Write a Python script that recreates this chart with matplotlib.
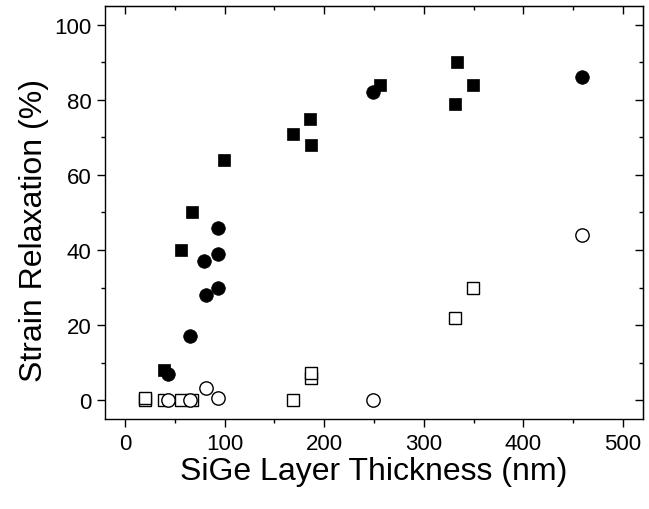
import matplotlib
matplotlib.use("Agg")
import matplotlib.pyplot as plt
from matplotlib.ticker import MultipleLocator

plt.rcParams["font.family"] = ["Liberation Sans", "DejaVu Sans"]

# filled squares
sq_full_x = [39, 56, 67, 99, 169, 187, 186, 256, 331, 333, 349]
sq_full_y = [8, 40, 50, 64, 71, 68, 75, 84, 79, 90, 84]
# filled circles
ci_full_x = [43, 65, 79, 81, 93, 93, 93, 249, 459]
ci_full_y = [7, 17, 37, 28, 46, 39, 30, 82, 86]
# open squares
sq_open_x = [20, 20, 39, 56, 67, 169, 187, 187, 331, 349]
sq_open_y = [0, 0.6, 0, 0, 0, 0, 6, 7.2, 22, 30]
# open circles
ci_open_x = [43, 65, 81, 93, 249, 459]
ci_open_y = [0, 0, 3.2, 0.6, 0, 44]

fig = plt.figure(figsize=(6.49, 5.10), dpi=100)
ax = fig.add_axes([0.1618, 0.1765, 0.829, 0.8098])

ax.plot(sq_open_x, sq_open_y, ls="none", marker="s", ms=8.8, mfc="white",
        mec="black", mew=1.0, zorder=3)
ax.plot(ci_open_x, ci_open_y, ls="none", marker="o", ms=9.6, mfc="white",
        mec="black", mew=1.0, zorder=3)
ax.plot(sq_full_x, sq_full_y, ls="none", marker="s", ms=8.6, mfc="black",
        mec="black", mew=0.5, zorder=4)
ax.plot(ci_full_x, ci_full_y, ls="none", marker="o", ms=9.8, mfc="black",
        mec="black", mew=0.5, zorder=4)

ax.set_xlim(-20, 520)
ax.set_ylim(-5, 105)
ax.xaxis.set_major_locator(MultipleLocator(100))
ax.xaxis.set_minor_locator(MultipleLocator(50))
ax.yaxis.set_major_locator(MultipleLocator(20))
ax.yaxis.set_minor_locator(MultipleLocator(10))

ax.tick_params(which="both", direction="out", width=1.0, labelsize=16,
               top=False, right=False)
ax.tick_params(which="major", length=5.8, pad=4)
ax.tick_params(which="minor", length=3)
for s in ax.spines.values():
    s.set_linewidth(1.0)

# mirrored inward ticks on top/right
axt = ax.secondary_xaxis("top")
axt.xaxis.set_major_locator(MultipleLocator(100))
axt.xaxis.set_minor_locator(MultipleLocator(50))
axt.tick_params(which="both", direction="in", labeltop=False, width=1.0)
axt.tick_params(which="major", length=5.8)
axt.tick_params(which="minor", length=3)
axr = ax.secondary_yaxis("right")
axr.yaxis.set_major_locator(MultipleLocator(20))
axr.yaxis.set_minor_locator(MultipleLocator(10))
axr.tick_params(which="both", direction="in", labelright=False, width=1.0)
axr.tick_params(which="major", length=5.8)
axr.tick_params(which="minor", length=3)

ax.set_xlabel("SiGe Layer Thickness (nm)", fontsize=23, labelpad=2)
ax.set_ylabel("Strain Relaxation (%)", fontsize=23, labelpad=4, y=0.46)

fig.savefig("out.png", dpi=100)
